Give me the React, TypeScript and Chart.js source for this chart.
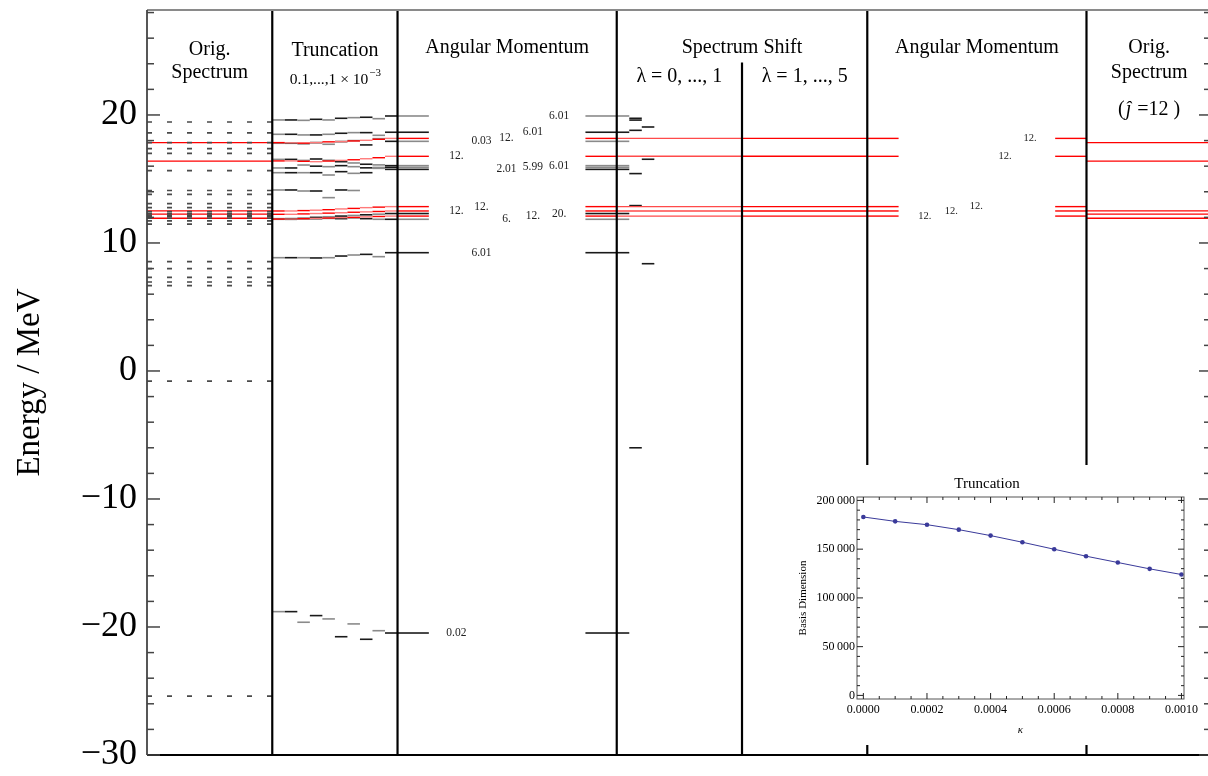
import React, { useEffect, useRef } from "react";
import { Chart, registerables } from "chart.js";
Chart.register(...registerables);

const SERIF = '"Liberation Serif", "DejaVu Serif", "Times New Roman", serif';

// ---------- main axis ----------
const energyMin = -30;
const energyMax = 28.2;
const energyTickLabels = [-30, -20, -10, 0, 10, 20];
const columnMax = 8.47;
const columnDividers = [1, 2, 3.75, 5.75, 7.5];
const shiftSubDivider = 4.75;
const shiftSubDividerTop = 24.1;

// ---------- original spectrum (dashed) ----------
const origSpectrum = [19.45, 18.6, 17.84, 17.37, 17.0, 15.65, 14.1, 13.8, 13.07, 12.76, 12.45, 12.3, 12.17, 12.05, 11.93, 11.72, 11.48, 8.54, 8.0, 7.32, 6.95, 6.67, -0.8, -25.4];
// original spectrum, j = 12 states (red)
const origJ12Spectrum = [17.84, 16.4, 12.5, 12.25, 11.93];

// ---------- truncation kappa = 0.1 ... 1 x 10^-3 (10 steps per level) ----------
const truncA = [19.61, 19.61, 19.58, 19.66, 19.61, 19.74, 19.79, 19.82, 19.71, 19.92];
const truncB = [18.49, 18.49, 18.44, 18.44, 18.49, 18.57, 18.62, 18.62, 18.41, 18.65];
const truncC = [17.79, 17.79, 17.74, 17.84, 17.71, 17.92, 18.0, 17.66, 18.15, 17.94];
const truncR1 = [17.84, 17.82, 17.8, 17.84, 17.9, 17.92, 17.97, 18.02, 18.1, 18.17];
const truncR2 = [16.41, 16.41, 16.38, 16.35, 16.4, 16.45, 16.5, 16.58, 16.66, 16.77];
const truncD1 = [16.53, 16.53, 16.45, 16.56, 16.46, 16.35, 16.25, 16.15, 16.1, 16.04];
const truncD2 = [15.86, 15.86, 16.09, 16.0, 15.96, 16.04, 15.96, 15.87, 15.9, 15.91];
const truncD3 = [15.49, 15.49, 15.49, 15.49, 15.31, 15.57, 15.44, 15.49, 15.83, 15.75];
const truncE = [14.14, 14.14, 14.06, 14.06, 13.54, 14.14, 14.1, null, null, null];
const truncR3 = [12.5, 12.5, 12.53, 12.56, 12.6, 12.66, 12.7, 12.76, 12.8, 12.84];
const truncR4 = [12.24, 12.24, 12.27, 12.3, 12.33, 12.36, 12.4, 12.43, 12.46, 12.5];
const truncF = [11.9, 11.9, 11.95, 12.0, 12.05, 12.1, 12.15, 12.2, 12.25, 12.3];
const truncR5 = [11.87, 11.87, 11.9, 11.92, 11.95, 11.98, 12.0, 12.04, 12.07, 12.1];
const truncG = [11.85, 11.85, 11.87, 11.9, 11.92, 11.9, 11.95, 11.9, 11.85, 11.85];
const truncH = [8.85, 8.85, 8.85, 8.83, 8.85, 8.98, 9.06, 9.11, 8.93, 9.24];
const truncI = [-18.8, -18.8, -19.63, -19.11, -19.37, -20.76, -19.76, -20.96, -20.29, -20.47];

const trackTrunc = [truncA, truncB, truncC, truncR1, truncR2, truncD1, truncD2, truncD3, truncE, truncR3, truncR4, truncF, truncR5, truncG, truncH, truncI];
// energy after truncation (angular momentum column)
const trackEnergy = [19.92, 18.65, 17.94, 18.17, 16.77, 16.04, 15.91, 15.75, null, 12.84, 12.5, 12.3, 12.1, 11.85, 9.24, -20.47];
const trackTone = ["gray", "black", "gray", "red", "red", "gray", "gray", "black", "black", "red", "red", "black", "red", "gray", "black", "black"];
// angular momentum labels
const trackJLabel = ["6.01", "6.01", "0.03", "12.", "12.", "6.01", "5.99", "2.01", null, "12.", "12.", "20.", "12.", "6.", "6.01", "0.02"];
const trackJSlot = [4, 3, 1, 2, 0, 4, 3, 2, null, 1, 0, 4, 3, 2, 1, 0];
// spectrum shift lambda = 0.1 and 0.2 steps
const trackShift1 = [19.74, 19.6, 18.8, null, null, null, null, 15.42, null, null, null, 12.92, null, null, null, -6.0];
const trackShift2 = [null, 19.06, null, null, null, 16.54, null, null, null, null, null, null, null, null, 8.38, null];
// j=12 tracks: label slot in the second angular-momentum column
const trackJSlot2 = [null, null, null, 4, 3, null, null, null, null, 2, 1, null, 0, null, null, null];
const jLabelSlotX = [2.47, 2.67, 2.87, 3.08, 3.29];
const jLabelSlot2X = [6.21, 6.42, 6.62, 6.85, 7.05];

// ---------- inset ----------
const kappa = [0, 0.0001, 0.0002, 0.0003, 0.0004, 0.0005, 0.0006, 0.0007, 0.0008, 0.0009, 0.001];
const basisDimension = [183000, 178500, 175100, 170000, 163900, 157100, 149900, 142800, 136300, 129800, 124000];
const insetYTicks = [0, 50000, 100000, 150000, 200000];
const insetXTicks = [0, 0.0002, 0.0004, 0.0006, 0.0008, 0.001];

const GRAY = "#8a8a8a";
const BLACK = "#1a1a1a";
const RED = "#ff0000";
const LRED = "#ff7a7a";

type Seg = [number, number, number, string];

function levelDataset(segs: Seg[], order: number, width = 1.6, dash?: number[]) {
  const data: { x: number; y: number | null }[] = [];
  const colors: string[] = [];
  for (const [a, b, v, c] of segs) {
    data.push({ x: a, y: v }, { x: b, y: v }, { x: b, y: null });
    colors.push(c);
  }
  return {
    data,
    borderColor: colors[0] || BLACK,
    borderWidth: width,
    borderDash: dash,
    pointRadius: 0,
    fill: false,
    tension: 0,
    order,
    segment: { borderColor: (ctx: any) => colors[Math.floor(ctx.p0DataIndex / 3)] },
  };
}

function buildDatasets() {
  const ds: any[] = [];
  for (const d of columnDividers) {
    ds.push({ data: [{ x: d, y: energyMin }, { x: d, y: energyMax }], borderColor: "#000", borderWidth: 2.2, pointRadius: 0, order: 0 });
  }
  ds.push({ data: [{ x: shiftSubDivider, y: energyMin }, { x: shiftSubDivider, y: shiftSubDividerTop }], borderColor: "#000", borderWidth: 2.2, pointRadius: 0, order: 0 });
  for (const e of origSpectrum) ds.push(levelDataset([[0, 1, e, "#4a4a4a"]], 1, 1.7, [5, 15]));
  for (const e of origJ12Spectrum) {
    ds.push(levelDataset([[0, 1, e, RED]], 2, 1.3));
    ds.push(levelDataset([[7.5, columnMax, e, RED]], 2, 1.3));
  }
  trackTrunc.forEach((trunc, i) => {
    const isRed = trackTone[i] === "red";
    const tone = isRed ? RED : trackTone[i] === "gray" ? GRAY : BLACK;
    const segs: Seg[] = [];
    trunc.forEach((v, k) => {
      if (v === null) return;
      const c = isRed ? (k % 2 ? LRED : RED) : k % 2 ? BLACK : GRAY;
      segs.push([1 + 0.1 * k, 1 + 0.1 * (k + 1), v, c]);
    });
    const e = trackEnergy[i];
    if (e !== null) {
      segs.push([2, 2.25, e, tone]);
      segs.push([3.5, 3.75, e, tone]);
      if (isRed) {
        segs.push([3.75, 4.75, e, "#ff4a4a"]);
        segs.push([4.75, 5.75, e, RED]);
        segs.push([5.75, 6.0, e, RED]);
        segs.push([7.25, 7.5, e, RED]);
      } else {
        segs.push([3.75, 3.85, e, tone]);
        const s1 = trackShift1[i];
        const s2 = trackShift2[i];
        if (s1 !== null) segs.push([3.85, 3.95, s1, BLACK]);
        if (s2 !== null) segs.push([3.95, 4.05, s2, BLACK]);
      }
    }
    ds.push(levelDataset(segs, isRed ? 2 : 3, isRed ? 1.4 : 1.6));
  });
  return ds;
}

const mainDecor = {
  id: "mainDecor",
  afterDatasetsDraw(chart: any) {
    const { ctx, chartArea: ca, scales } = chart;
    const x = scales.x;
    const y = scales.y;
    const line = (x1: number, y1: number, x2: number, y2: number) => {
      ctx.beginPath();
      ctx.moveTo(x1, y1);
      ctx.lineTo(x2, y2);
      ctx.stroke();
    };
    ctx.save();
    ctx.strokeStyle = "#8a8a8a";
    ctx.lineWidth = 2;
    line(ca.left, ca.top, ca.right, ca.top);
    ctx.strokeStyle = "#000";
    line(ca.left, ca.bottom, ca.right, ca.bottom);
    ctx.strokeStyle = "#444";
    ctx.lineWidth = 1.8;
    line(ca.left, ca.top, ca.left, ca.bottom);
    ctx.lineWidth = 1.5;
    for (let v = energyMin; v <= energyMax; v += 2) {
      const py = y.getPixelForValue(v);
      const major = v % 10 === 0;
      line(ca.left, py, ca.left + (major ? 13 : 7), py);
      line(ca.right - (major ? 9 : 4), py, ca.right, py);
    }
    ctx.fillStyle = "#222";
    ctx.textAlign = "center";
    ctx.textBaseline = "middle";
    ctx.font = `11.5px ${SERIF}`;
    trackJLabel.forEach((lab, i) => {
      const e = trackEnergy[i];
      const slot = trackJSlot[i];
      if (lab === null || e === null || slot === null) return;
      ctx.fillText(lab, x.getPixelForValue(jLabelSlotX[slot]), y.getPixelForValue(e));
    });
    ctx.font = `10.5px ${SERIF}`;
    trackJSlot2.forEach((slot, i) => {
      const e = trackEnergy[i];
      if (slot === null || e === null) return;
      ctx.fillText("12.", x.getPixelForValue(jLabelSlot2X[slot]), y.getPixelForValue(e));
    });
    ctx.restore();
  },
  afterDraw(chart: any) {
    const { ctx, chartArea: ca } = chart;
    const x = chart.scales.x;
    const cx = (v: number) => x.getPixelForValue(v);
    ctx.save();
    ctx.fillStyle = "#000";
    ctx.textAlign = "center";
    ctx.textBaseline = "middle";
    ctx.font = `20px ${SERIF}`;
    ctx.fillText("Orig.", cx(0.5), 50);
    ctx.fillText("Spectrum", cx(0.5), 73);
    ctx.fillText("Truncation", cx(1.5), 51);
    ctx.fillText("Angular Momentum", cx(2.875), 48);
    ctx.fillText("Spectrum Shift", cx(4.75), 48);
    ctx.fillText("λ = 0, ..., 1", cx(4.25), 77);
    ctx.fillText("λ = 1, ..., 5", cx(5.25), 77);
    ctx.fillText("Angular Momentum", cx(6.625), 48);
    ctx.fillText("Orig.", cx(8), 48);
    ctx.fillText("Spectrum", cx(8), 73);
    ctx.textAlign = "left";
    const p1 = "(";
    const p2 = "ĵ";
    const p3 = " =12 )";
    ctx.font = `20px ${SERIF}`;
    const w1 = ctx.measureText(p1).width;
    const w3 = ctx.measureText(p3).width;
    ctx.font = `italic 20px ${SERIF}`;
    const w2 = ctx.measureText(p2).width + 2;
    let sx = cx(8) - (w1 + w2 + w3) / 2;
    ctx.font = `20px ${SERIF}`;
    ctx.fillText(p1, sx, 110);
    ctx.font = `italic 20px ${SERIF}`;
    ctx.fillText(p2, sx + w1 + 1, 110);
    ctx.font = `20px ${SERIF}`;
    ctx.fillText(p3, sx + w1 + w2, 110);
    ctx.font = `15.5px ${SERIF}`;
    const sub = "0.1,...,1 × 10";
    const sw = ctx.measureText(sub).width;
    ctx.font = `11px ${SERIF}`;
    const ew = ctx.measureText("−3").width;
    sx = cx(1.5) - (sw + ew) / 2;
    ctx.font = `15.5px ${SERIF}`;
    ctx.fillText(sub, sx, 80);
    ctx.font = `11px ${SERIF}`;
    ctx.fillText("−3", sx + sw + 1, 73);
    ctx.translate(30, (ca.top + ca.bottom) / 2);
    ctx.rotate(-Math.PI / 2);
    ctx.textAlign = "center";
    ctx.font = `33px ${SERIF}`;
    ctx.fillText("Energy / MeV", 0, 0);
    ctx.restore();
  },
};

const insetDecor = {
  id: "insetDecor",
  beforeDraw(chart: any) {
    const { ctx } = chart;
    ctx.save();
    ctx.fillStyle = "#fff";
    ctx.fillRect(0, 0, 408, chart.height);
    ctx.restore();
  },
  afterDraw(chart: any) {
    const { ctx, chartArea: ca, scales } = chart;
    const x = scales.x;
    const y = scales.y;
    const line = (x1: number, y1: number, x2: number, y2: number) => {
      ctx.beginPath();
      ctx.moveTo(x1, y1);
      ctx.lineTo(x2, y2);
      ctx.stroke();
    };
    ctx.save();
    ctx.strokeStyle = "#555";
    ctx.lineWidth = 1;
    ctx.strokeRect(ca.left, ca.top, ca.right - ca.left, ca.bottom - ca.top);
    ctx.strokeStyle = "#222";
    for (let v = 0; v <= 200000; v += 10000) {
      const py = y.getPixelForValue(v);
      const len = v % 50000 === 0 ? 6 : 3;
      line(ca.left, py, ca.left + len, py);
      line(ca.right - len, py, ca.right, py);
    }
    for (let i = 0; i <= 20; i++) {
      const v = i * 0.00005;
      const px = x.getPixelForValue(v);
      const len = i % 4 === 0 ? 6 : 3;
      line(px, ca.bottom, px, ca.bottom - len);
      line(px, ca.top, px, ca.top + len);
    }
    ctx.restore();
  },
};

export default function App() {
  const mainRef = useRef<HTMLCanvasElement>(null);
  const insetRef = useRef<HTMLCanvasElement>(null);

  useEffect(() => {
    const main = new Chart(mainRef.current as HTMLCanvasElement, {
      type: "line",
      data: { datasets: buildDatasets() },
      options: {
        responsive: false,
        animation: false,
        events: [],
        layout: { padding: { left: 0, right: 0, top: 10, bottom: 21 } },
        plugins: { legend: { display: false }, tooltip: { enabled: false } },
        scales: {
          x: { type: "linear", min: 0, max: columnMax, display: false },
          y: {
            type: "linear",
            min: energyMin,
            max: energyMax,
            grid: { display: false, drawTicks: false },
            border: { display: false },
            afterBuildTicks: (s: any) => {
              s.ticks = energyTickLabels.map((v) => ({ value: v }));
            },
            afterFit: (s: any) => {
              s.width = 147;
              s.paddingTop = 0;
              s.paddingBottom = 0;
            },
            ticks: {
              padding: 10,
              color: "#000",
              font: { family: SERIF, size: 36 },
              callback: (v: any) => (Number(v) < 0 ? "−" + Math.abs(Number(v)) : String(v)),
            },
          },
        },
      } as any,
      plugins: [mainDecor],
    });

    const inset = new Chart(insetRef.current as HTMLCanvasElement, {
      type: "line",
      data: {
        datasets: [
          {
            data: kappa.map((k, i) => ({ x: k, y: basisDimension[i] })),
            borderColor: "#3a3a9a",
            backgroundColor: "#3a3a9a",
            borderWidth: 1,
            pointRadius: 2.3,
            pointBorderWidth: 0,
            tension: 0,
          },
        ],
      },
      options: {
        responsive: false,
        animation: false,
        events: [],
        layout: { padding: { left: 0, right: 24, top: 0, bottom: 0 } },
        plugins: {
          legend: { display: false },
          tooltip: { enabled: false },
          title: {
            display: true,
            text: "Truncation",
            color: "#000",
            font: { family: SERIF, size: 15, weight: "normal" },
            padding: { top: 10, bottom: 4 },
          },
        },
        scales: {
          x: {
            type: "linear",
            min: -0.00002,
            max: 0.001008,
            grid: { display: false, drawTicks: false },
            border: { display: false },
            afterBuildTicks: (s: any) => {
              s.ticks = insetXTicks.map((v) => ({ value: v }));
            },
            afterFit: (s: any) => {
              s.height = 46;
              s.paddingLeft = 0;
              s.paddingRight = 0;
            },
            ticks: {
              padding: 4,
              maxRotation: 0,
              autoSkip: false,
              color: "#000",
              font: { family: SERIF, size: 12 },
              callback: (v: any) => Number(v).toFixed(4),
            },
            title: {
              display: true,
              text: "κ",
              color: "#000",
              font: { family: SERIF, size: 11, style: "italic" },
              padding: { top: 0, bottom: 8 },
            },
          },
          y: {
            type: "linear",
            min: -3700,
            max: 203500,
            grid: { display: false, drawTicks: false },
            border: { display: false },
            afterBuildTicks: (s: any) => {
              s.ticks = insetYTicks.map((v) => ({ value: v }));
            },
            afterFit: (s: any) => {
              s.width = 67;
              s.paddingTop = 0;
              s.paddingBottom = 0;
            },
            ticks: {
              padding: 2,
              color: "#000",
              font: { family: SERIF, size: 12 },
              callback: (v: any) => (Number(v) === 0 ? "0" : `${Math.round(Number(v) / 1000)}\u2009000`),
            },
            title: {
              display: true,
              text: "Basis Dimension",
              color: "#000",
              font: { family: SERIF, size: 11 },
              padding: { top: 7, bottom: 0 },
            },
          },
        },
      } as any,
      plugins: [insetDecor],
    });

    return () => {
      main.destroy();
      inset.destroy();
    };
  }, []);

  return (
    <div style={{ position: "fixed", left: 0, top: 0, width: 1208, height: 776, background: "#fff" }}>
      <canvas ref={mainRef} width={1208} height={776} style={{ position: "absolute", left: 0, top: 0 }} />
      <canvas ref={insetRef} width={418} height={280} style={{ position: "absolute", left: 790, top: 465 }} />
    </div>
  );
}
